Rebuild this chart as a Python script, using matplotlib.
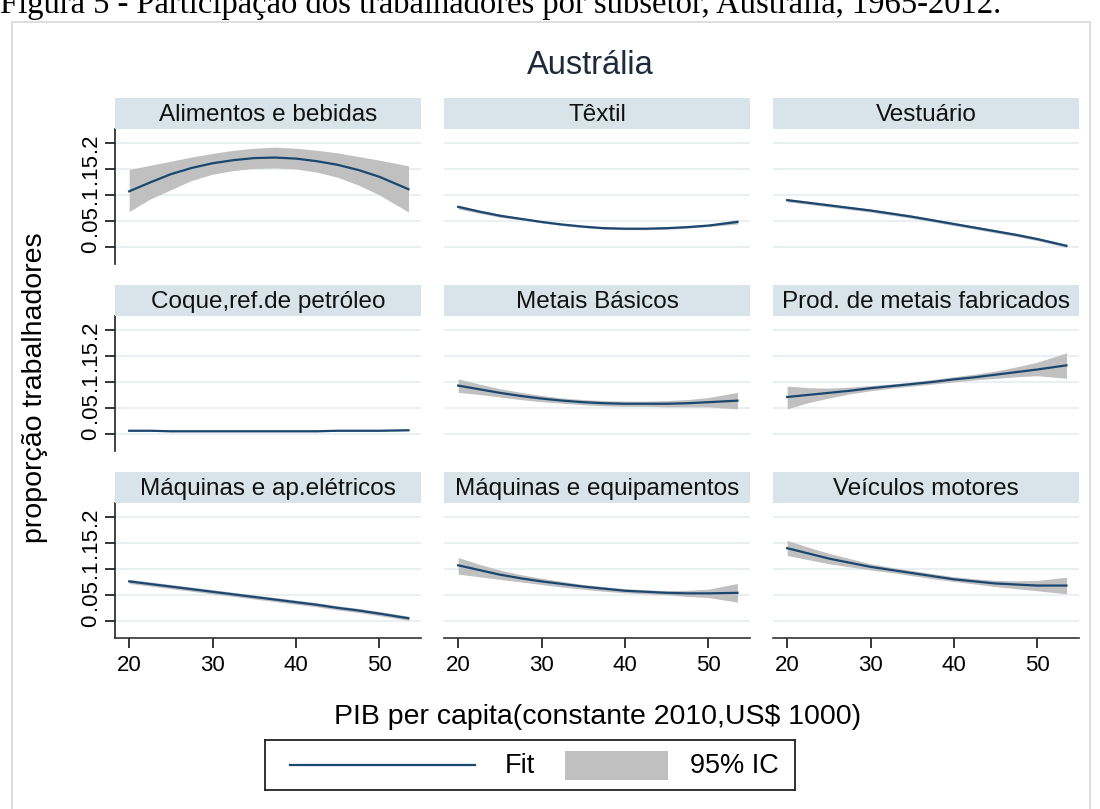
import numpy as np
import matplotlib.pyplot as plt
from matplotlib.patches import Rectangle

plt.rcParams['font.family'] = ['Liberation Sans', 'DejaVu Sans']

# values
gdp = [20, 22.5, 25, 27.5, 30, 32.5, 35, 37.5, 40, 42.5, 45, 47.5, 50, 53.5]

panels = ['Alimentos e bebidas', 'Têxtil', 'Vestuário',
          'Coque,ref.de petróleo', 'Metais Básicos', 'Prod. de metais fabricados',
          'Máquinas e ap.elétricos', 'Máquinas e equipamentos', 'Veículos motores']

fit = [
    [.107, .124, .140, .152, .161, .167, .171, .172, .170, .165, .158, .148, .135, .111],
    [.077, .068, .060, .054, .048, .043, .039, .036, .035, .035, .036, .038, .041, .048],
    [.090, .085, .080, .075, .070, .064, .058, .051, .044, .037, .030, .023, .015, .002],
    [.006, .006, .005, .005, .005, .005, .005, .005, .005, .005, .006, .006, .006, .007],
    [.093, .086, .079, .073, .068, .064, .061, .059, .058, .058, .058, .059, .061, .064],
    [.071, .075, .079, .083, .088, .092, .096, .100, .105, .109, .114, .119, .124, .132],
    [.076, .071, .066, .061, .056, .051, .046, .041, .036, .031, .025, .020, .014, .005],
    [.107, .098, .089, .082, .076, .071, .066, .062, .058, .056, .054, .053, .053, .054],
    [.140, .130, .120, .112, .104, .098, .092, .086, .080, .076, .072, .070, .068, .068],
]
ci_hi = [
    [.149, .157, .165, .173, .180, .186, .190, .192, .190, .186, .181, .174, .167, .156],
    [.081, .071, .063, .056, .050, .045, .041, .038, .037, .037, .038, .040, .043, .053],
    [.093, .088, .083, .078, .073, .067, .061, .054, .047, .040, .033, .026, .018, .005],
    [.007, .007, .006, .006, .006, .006, .006, .006, .006, .006, .007, .007, .007, .008],
    [.106, .096, .087, .080, .074, .069, .066, .064, .063, .063, .064, .066, .070, .080],
    [.092, .089, .088, .090, .093, .096, .100, .105, .110, .115, .121, .129, .138, .156],
    [.080, .075, .070, .065, .060, .055, .050, .045, .040, .035, .029, .024, .018, .009],
    [.122, .109, .098, .089, .082, .076, .070, .066, .062, .060, .058, .059, .061, .072],
    [.155, .142, .130, .120, .110, .103, .097, .091, .085, .081, .078, .077, .078, .084],
]
ci_lo = [
    [.068, .092, .110, .128, .140, .147, .151, .152, .150, .144, .134, .119, .100, .067],
    [.073, .065, .057, .052, .046, .041, .037, .034, .033, .033, .034, .036, .039, .044],
    [.087, .082, .077, .072, .067, .061, .055, .048, .041, .034, .027, .020, .012, -.001],
    [.005, .005, .004, .004, .004, .004, .004, .004, .004, .004, .005, .005, .005, .006],
    [.080, .076, .071, .066, .062, .059, .056, .054, .053, .053, .052, .052, .052, .048],
    [.048, .060, .069, .077, .083, .088, .092, .096, .100, .104, .107, .110, .112, .107],
    [.072, .067, .062, .057, .052, .047, .042, .037, .032, .027, .021, .016, .010, .001],
    [.090, .085, .080, .075, .070, .065, .061, .057, .054, .052, .050, .047, .045, .036],
    [.126, .118, .110, .104, .098, .093, .087, .081, .076, .071, .066, .062, .058, .052],
]

yticks = [0, 0.05, 0.1, 0.15, 0.2]
ylabels = ['0', '.05', '.1', '.15', '.2']
xticks = [20, 30, 40, 50]

W, H = 1100, 809
LINE = '#1a476f'
BAND = '#c0c0c0'
STRIP = '#d8e4e9'
GRID = '#e8eef0'

fig = plt.figure(figsize=(W / 100, H / 100), dpi=100)

def px_axes(l, t, w, h, **kw):
    return fig.add_axes([l / W, 1 - (t + h) / H, w / W, h / H], **kw)

# caption partially cut at the top, plus the light frame of the graph
fig.text(0.0, 1 - 13 / H, 'Figura 5 - Participação dos trabalhadores por subsetor, Austrália, 1965-2012.',
         family='Liberation Serif', fontsize=23.5, ha='left', va='baseline')
fig.patches.append(Rectangle((12 / W, -0.01), 1078 / W, 1 - 22 / H + 0.01,
                             transform=fig.transFigure, fill=False, ec='#d8d8d8', lw=1.2))

fig.text(590 / W, 1 - 65 / H, 'Austrália', fontsize=23.5, color='#1e2a3a', ha='center', va='center')

lefts = [115, 444, 773]
tops = [129, 316, 503]
pw, ph, sh = 306, 135, 31

for k, name in enumerate(panels):
    r, c = divmod(k, 3)
    ax = px_axes(lefts[c], tops[r], pw, ph)
    ax.fill_between(gdp, ci_lo[k], ci_hi[k], color=BAND, lw=0)
    ax.plot(gdp, fit[k], color=LINE, lw=1.6)
    ax.set_xlim(18.3, 55.0)
    ax.set_ylim(-0.033, 0.227)
    for yv in yticks:
        ax.axhline(yv, color=GRID, lw=1.3, zorder=0)
    for s in ['top', 'right']:
        ax.spines[s].set_visible(False)
    ax.spines['left'].set_visible(c == 0)
    ax.spines['bottom'].set_visible(r == 2)
    ax.spines['left'].set_color('#222222')
    ax.spines['bottom'].set_color('#333333')
    ax.spines['left'].set_linewidth(1.2)
    ax.spines['bottom'].set_linewidth(1.2)
    if c == 0:
        ax.set_yticks(yticks)
        ax.set_yticklabels(ylabels, rotation=90, va='center', fontsize=16)
        ax.tick_params(axis='y', length=7, width=1.1, pad=3)
    else:
        ax.set_yticks([])
    if r == 2:
        ax.set_xticks(xticks)
        ax.tick_params(axis='x', length=7, width=1.1, labelsize=16, pad=5)
    else:
        ax.set_xticks([])

    sax = px_axes(lefts[c], tops[r] - sh, pw, sh)
    sax.set_facecolor(STRIP)
    sax.set_xticks([])
    sax.set_yticks([])
    for s in sax.spines.values():
        s.set_visible(False)
    sax.text(0.5, 0.45, name, ha='center', va='center', fontsize=17.5, color='#111111',
             transform=sax.transAxes)

fig.text(35 / W, 1 - 388 / H, 'proporção trabalhadores', rotation=90, fontsize=20.5,
         ha='center', va='center')
fig.text(598 / W, 1 - 717 / H, 'PIB per capita(constante 2010,US$ 1000)', fontsize=20.5,
         ha='center', va='center')

# legend box drawn by hand so the key sizes follow the reference
lax = px_axes(265, 740, 530, 50)
lax.set_xlim(265, 795)
lax.set_ylim(790, 740)
lax.set_xticks([])
lax.set_yticks([])
for s in lax.spines.values():
    s.set_linewidth(1.3)
    s.set_color('#222222')
lax.plot([290, 475], [765, 765], color=LINE, lw=1.6)
lax.text(505, 766, 'Fit', fontsize=19.5, ha='left', va='center')
lax.add_patch(Rectangle((565, 751), 103, 29, fc=BAND, ec='none'))
lax.text(690, 766, '95% IC', fontsize=19.5, ha='left', va='center')

fig.savefig('out.png', dpi=100)
